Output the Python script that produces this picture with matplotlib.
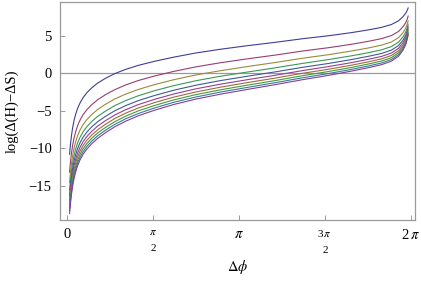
import matplotlib
matplotlib.use("Agg")
import matplotlib.pyplot as plt

# sample positions along delta-phi (radians)
dphi = [0.045, 0.055, 0.065, 0.08, 0.1, 0.125, 0.155, 0.19, 0.235, 0.29, 0.36, 0.45,
        0.56, 0.7, 0.87, 1.07, 1.3, 1.6, 1.95, 2.35, 2.8, 3.3, 3.8, 4.3, 4.8, 5.2,
        5.5, 5.75, 5.93, 6.06, 6.14, 6.19, 6.215, 6.235]

curve_1 = [-10.8, -9.95, -9.25, -8.30, -7.30, -6.35, -5.50, -4.72, -3.97, -3.27, -2.60, -1.95,
           -1.30, -0.68, -0.05, 0.52, 1.05, 1.60, 2.15, 2.70, 3.20, 3.68, 4.12, 4.60, 5.02, 5.42,
           5.77, 6.12, 6.50, 7.00, 7.55, 8.00, 8.35, 8.70]
curve_2 = [-13.18, -12.32, -11.61, -10.66, -9.64, -8.68, -7.82, -7.02, -6.26, -5.54, -4.86, -4.19,
           -3.52, -2.86, -2.19, -1.56, -0.97, -0.36, 0.25, 0.85, 1.40, 1.93, 2.42, 2.96, 3.43, 3.87,
           4.25, 4.62, 5.03, 5.58, 6.20, 6.74, 7.17, 7.62]
curve_3 = [-14.57, -13.71, -13.00, -12.04, -11.01, -10.04, -9.17, -8.37, -7.60, -6.87, -6.18, -5.50,
           -4.82, -4.14, -3.43, -2.78, -2.16, -1.51, -0.86, -0.23, 0.34, 0.90, 1.43, 2.00, 2.50, 2.97,
           3.36, 3.75, 4.17, 4.75, 5.41, 6.00, 6.48, 6.99]
curve_4 = [-15.56, -14.69, -13.98, -13.01, -11.99, -11.01, -10.13, -9.32, -8.55, -7.82, -7.12, -6.43,
           -5.74, -5.05, -4.32, -3.64, -3.00, -2.32, -1.65, -1.00, -0.40, 0.17, 0.72, 1.31, 1.85, 2.33,
           2.73, 3.13, 3.56, 4.16, 4.85, 5.48, 5.99, 6.54]
curve_5 = [-16.32, -15.45, -14.74, -13.77, -12.74, -11.76, -10.88, -10.06, -9.28, -8.55, -7.85, -7.15,
           -6.45, -5.75, -5.01, -4.31, -3.65, -2.96, -2.26, -1.60, -0.98, -0.39, 0.18, 0.79, 1.33, 1.83,
           2.25, 2.64, 3.09, 3.70, 4.41, 5.07, 5.61, 6.19]
curve_6 = [-16.95, -16.08, -15.36, -14.39, -13.36, -12.37, -11.49, -10.67, -9.88, -9.15, -8.44, -7.74,
           -7.03, -6.32, -5.57, -4.86, -4.18, -3.47, -2.76, -2.08, -1.46, -0.85, -0.27, 0.35, 0.92, 1.42,
           1.85, 2.25, 2.70, 3.33, 4.06, 4.74, 5.30, 5.91]
curve_7 = [-17.47, -16.61, -15.89, -14.92, -13.88, -12.89, -12.00, -11.18, -10.39, -9.65, -8.94, -8.24,
           -7.53, -6.81, -6.04, -5.32, -4.63, -3.91, -3.18, -2.50, -1.86, -1.24, -0.65, -0.01, 0.56, 1.08,
           1.51, 1.92, 2.38, 3.01, 3.76, 4.46, 5.04, 5.66]
curve_8 = [-17.93, -17.06, -16.34, -15.37, -14.33, -13.34, -12.45, -11.62, -10.83, -10.09, -9.38, -8.67,
           -7.95, -7.23, -6.46, -5.72, -5.02, -4.29, -3.55, -2.85, -2.21, -1.58, -0.98, -0.33, 0.26, 0.78,
           1.22, 1.63, 2.09, 2.74, 3.50, 4.22, 4.82, 5.46]
curve_9 = [-18.34, -17.46, -16.74, -15.77, -14.73, -13.73, -12.84, -12.02, -11.22, -10.48, -9.76, -9.05,
           -8.33, -7.60, -6.82, -6.07, -5.37, -4.62, -3.87, -3.17, -2.51, -1.88, -1.26, -0.61, -0.01, 0.52,
           0.96, 1.37, 1.84, 2.50, 3.27, 4.00, 4.62, 5.27]
curve_10 = [-18.70, -17.83, -17.10, -16.13, -15.08, -14.09, -13.19, -12.37, -11.57, -10.82, -10.11, -9.39,
            -8.67, -7.93, -7.14, -6.39, -5.67, -4.92, -4.16, -3.45, -2.79, -2.15, -1.52, -0.86, -0.25, 0.29,
            0.73, 1.15, 1.62, 2.28, 3.06, 3.81, 4.44, 5.11]

curves = [curve_1, curve_2, curve_3, curve_4, curve_5,
          curve_6, curve_7, curve_8, curve_9, curve_10]

colors = [(0.247, 0.24, 0.6), (0.6, 0.24, 0.443), (0.6, 0.547, 0.24), (0.24, 0.6, 0.337),
          (0.24, 0.353, 0.6), (0.6, 0.24, 0.563), (0.6, 0.427, 0.24), (0.263, 0.6, 0.24),
          (0.24, 0.474, 0.6), (0.516, 0.24, 0.6)]

xtick_vals = [0, 1.5707963, 3.1415927, 4.712389, 6.2831853]
xtick_labels = ["0", "$\\pi$\n2", "$\\pi$", "3$\\,\\pi$\n2", "2$\\,\\pi$"]
ytick_vals = [-15, -10, -5, 0, 5]
ytick_labels = ["\u221215", "\u221210", "\u22125", "0", "5"]

plt.rcParams["font.family"] = ["Liberation Serif", "DejaVu Serif"]
plt.rcParams["mathtext.fontset"] = "stix"

fig = plt.figure(figsize=(4.21, 2.88), dpi=100)
ax = fig.add_axes([60 / 421, 1 - 220 / 288, 355 / 421, 218 / 288])

gray = "#9a9a9a"
ax.axhline(0, color=gray, lw=0.9, zorder=1)
for y, c in zip(curves, colors):
    ax.plot(dphi, y, color=c, lw=0.8, zorder=2)

ax.set_xlim(-0.13, 6.36)
ax.set_ylim(-19.56, 9.5)

ax.set_xticks(xtick_vals)
ax.set_xticklabels(xtick_labels, fontsize=10.5)
for lbl in ax.get_xticklabels():
    if "\n" in lbl.get_text():
        lbl.set_fontsize(8)
        lbl.set_linespacing(2.0)
        lbl.set_multialignment("center")
ax.set_yticks(ytick_vals)
ax.set_yticklabels(ytick_labels, fontsize=10.5)
ax.tick_params(direction="in", length=3.5, width=0.7, color=gray, pad=6,
               top=False, right=False)
for s in ax.spines.values():
    s.set_color(gray)
    s.set_linewidth(0.9)

ax.set_xlabel(r"$\Delta\phi$", fontsize=10.5)
ax.xaxis.set_label_coords(0.5, -0.215)
ax.xaxis.label.set_va("center")
ax.set_ylabel("log(\u0394(H)\u2212\u0394S)", fontsize=10.5)
ax.yaxis.set_label_coords(-0.135, 0.5)
ax.yaxis.label.set_va("center")

fig.savefig("out.png", dpi=100)
